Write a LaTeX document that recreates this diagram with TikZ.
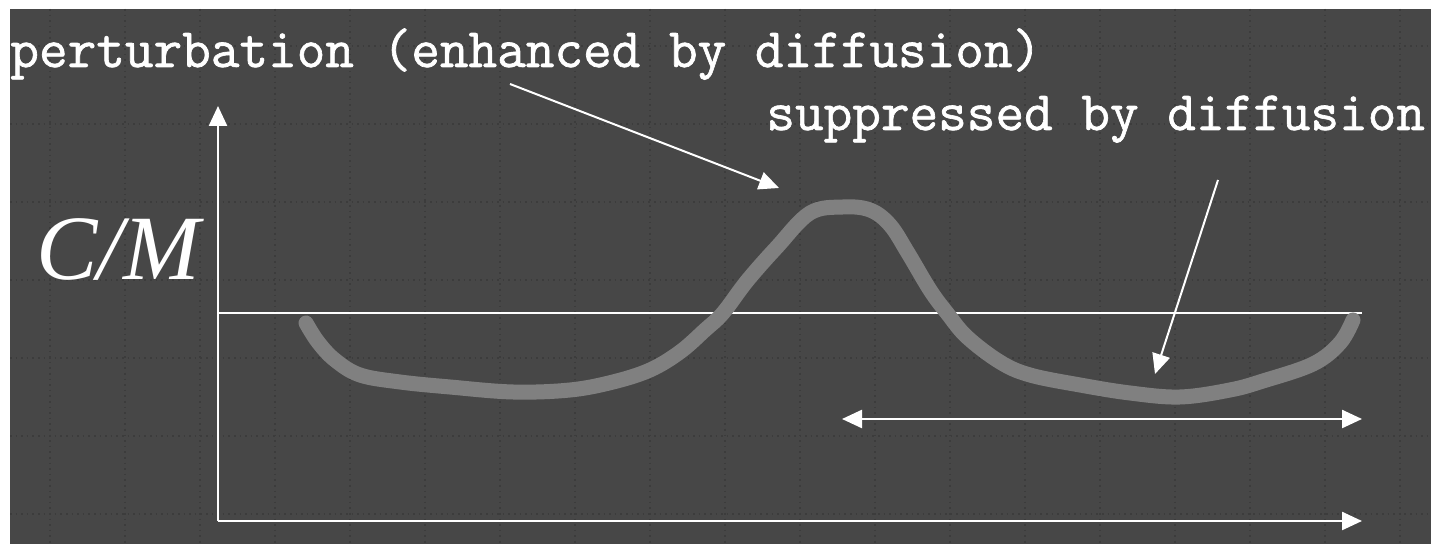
\documentclass[tikz,border=0pt]{standalone}
\usepackage{fontspec}
\setmainfont{Liberation Serif}
\newfontfamily\courierf[FakeBold=1.2]{Latin Modern Mono}
\usetikzlibrary{arrows.meta}
\definecolor{bg}{RGB}{71,71,71}
\definecolor{gridc}{RGB}{60,60,60}
\definecolor{curvec}{RGB}{128,128,128}
\tikzset{
  lbl/.style={text=white, inner sep=0pt, anchor=base west, font=\courierf\fontsize{27.8pt}{30pt}\selectfont},
  axis/.style={draw=white, line width=1.2pt, -{Triangle[length=10pt,width=9pt]}},
  pointer/.style={draw=white, line width=1pt, -{Triangle[length=10pt,width=9pt]}},
  gridl/.style={draw=gridc, line width=0.8pt, dotted},
}
\begin{document}
\begin{tikzpicture}[x=0.5pt, y=-0.5pt]
\useasboundingbox (0,0) rectangle (1431,544);
\fill[white] (0,0) rectangle (1431,544);
\fill[bg] (10,9) rectangle (1431,544);
% grid
\foreach \gx in {50,125,...,1400} \draw[gridl] (\gx,9) -- (\gx,544);
\foreach \gy in {46,124,202,280,358,436,514} \draw[gridl] (10,\gy) -- (1431,\gy);
% texts
\node[lbl] (t1) at (10,67) {perturbation (enhanced by diffusion)};
\node[lbl] (t2) at (766,130) {suppressed by diffusion};
\node[text=white, inner sep=0pt, anchor=base west, font=\itshape\fontsize{46pt}{50pt}\selectfont] (cm) at (36,280) {C/M};
% axes
\coordinate (o) at (218,521);
\coordinate (ytip) at (218,106);
\coordinate (xtip) at (1362,521);
\draw[axis] (o) -- (ytip);
\draw[axis] (o) -- (xtip);
\coordinate (h1) at (218,313);
\coordinate (h2) at (1362,313);
\draw[white, line width=1pt] (h1) -- (h2);
% curve
\draw[curvec, line width=7.5pt, line cap=round, line join=round]
 plot[smooth, tension=0.6] coordinates {(306,323) (318,342) (335,360) (360,375) (400,382) (450,387) (513,392) (570,390) (613,382) (650,370) (680,352) (705,330) (723,313) (747,281) (777,247) (810,213) (843,207) (870,210) (890,225) (908,253) (930,290) (947,313) (967,337) (1000,362) (1030,375) (1080,385) (1130,393) (1180,397) (1230,390) (1263,381) (1313,364) (1340,343) (1353,320)};
% pointers
\coordinate (a1s) at (510,84);
\coordinate (a1e) at (779,188);
\draw[pointer] (a1s) -- (a1e);
\coordinate (a2s) at (1218,180);
\coordinate (a2e) at (1155,374);
\draw[pointer] (a2s) -- (a2e);
% range arrow
\coordinate (r1) at (842,419);
\coordinate (r2) at (1362,419);
\draw[white, line width=1.2pt, {Triangle[length=10pt,width=9pt]}-{Triangle[length=10pt,width=9pt]}] (r1) -- (r2);
\end{tikzpicture}
\end{document}
